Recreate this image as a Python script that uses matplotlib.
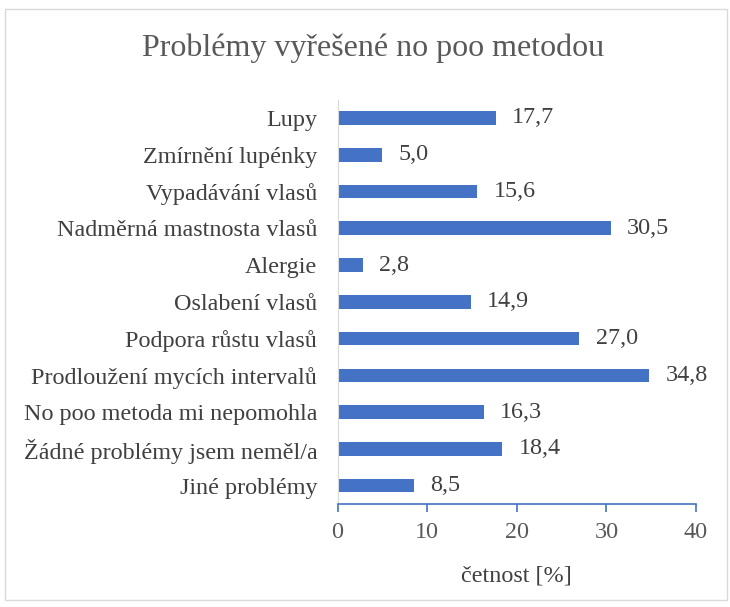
import matplotlib
matplotlib.use("Agg")
import matplotlib.pyplot as plt
from matplotlib.patches import Rectangle

categories = ["Lupy", "Zmírnění lupénky", "Vypadávání vlasů", "Nadměrná mastnosta vlasů",
              "Alergie", "Oslabení vlasů", "Podpora růstu vlasů", "Prodloužení mycích intervalů",
              "No poo metoda mi nepomohla", "Žádné problémy jsem neměl/a", "Jiné problémy"]
values = [17.7, 5.0, 15.6, 30.5, 2.8, 14.9, 27.0, 34.8, 16.3, 18.4, 8.5]
xticks = [0, 10, 20, 30, 40]

plt.rcParams['font.family'] = ['Liberation Serif', 'DejaVu Serif']

W, H = 730, 607
fs = 17.4
fig = plt.figure(figsize=(W/100, H/100), dpi=100)
fig.patches.append(Rectangle((5/W, 1-600/H), 722/W, (600-9)/H, transform=fig.transFigure,
                             fill=False, edgecolor='#d9d9d9', linewidth=1))

ax = fig.add_axes([337.5/W, 1-504/H, (696-337.5)/W, (504-99.6)/H])
n = len(categories)
ypos = list(range(n))
ax.barh(ypos, values, height=0.37, color='#4472C4')
ax.set_ylim(n-0.5, -0.5)
ax.set_xlim(0, 40)
ax.set_yticks(ypos)
ax.set_yticklabels(categories, fontsize=fs, color='#404040')
ax.tick_params(axis='y', length=0, pad=14.5)
ax.set_xticks(xticks)
ax.set_xticklabels([str(t) for t in xticks], fontsize=fs, color='#595959')
ax.tick_params(axis='x', length=6, color='#4472C4', width=1.2, pad=7)
for s in ['top', 'right']:
    ax.spines[s].set_visible(False)
ax.spines['left'].set_color('#d9d9d9')
ax.spines['bottom'].set_color('#4472C4')
ax.spines['bottom'].set_linewidth(1.2)

for y, v in zip(ypos, values):
    ax.text(v + 1.8, y, f"{v:.1f}".replace('.', ','), va='center', ha='left',
            fontsize=fs, color='#404040')

ax.set_xlabel("četnost [%]", fontsize=fs, color='#404040', labelpad=16)
fig.text(373/W, 1-48/H, "Problémy vyřešené no poo metodou", ha='center', va='center',
         fontsize=23, color='#595959')

fig.savefig("out.png", dpi=100)
